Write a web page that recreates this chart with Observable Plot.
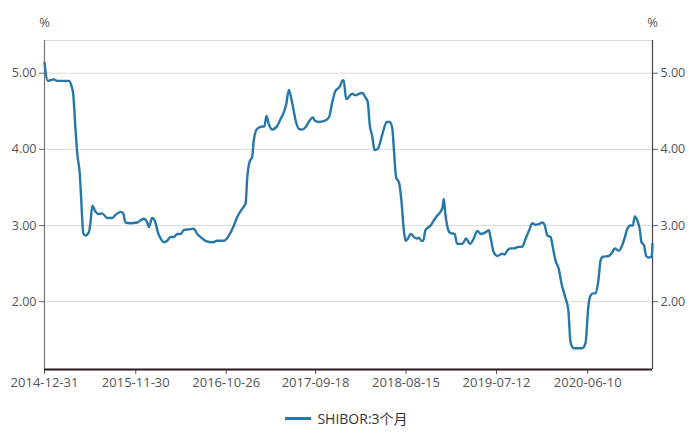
<!DOCTYPE html>
<html>
<head>
<meta charset="utf-8">
<script src="https://cdn.jsdelivr.net/npm/d3@7"></script>
<script src="https://cdn.jsdelivr.net/npm/@observablehq/plot@0.6"></script>
<style>
  html, body { margin: 0; padding: 0; background: #fff; }
  #chart { width: 693px; font-family: "Open Sans", "Noto Sans CJK SC", sans-serif; }
  #legend { height: 36px; display: flex; align-items: center; justify-content: center; font-size: 14px; color: #333; }
  #legend .sw { width: 26px; height: 3px; background: #2778a8; margin-right: 6px; }
</style>
</head>
<body>
<div id="chart"></div>
<script>
const seriesName = "SHIBOR:3个月";
const dates = [
"2014-12-31","2015-01-12","2015-02-03","2015-02-15","2015-03-30","2015-04-08","2015-04-15","2015-04-23","2015-04-30","2015-05-09",
"2015-05-14","2015-05-22","2015-05-30","2015-06-11","2015-06-17","2015-06-24","2015-07-06","2015-07-18","2015-07-30","2015-08-17",
"2015-09-05","2015-09-17","2015-10-05","2015-10-15","2015-10-23","2015-11-11","2015-12-05","2015-12-29","2016-01-11","2016-01-17",
"2016-01-29","2016-02-10","2016-02-19","2016-02-29","2016-03-12","2016-03-24","2016-04-05","2016-04-17","2016-04-30","2016-05-12",
"2016-05-24","2016-06-11","2016-06-29","2016-07-12","2016-07-24","2016-08-11","2016-09-05","2016-09-23","2016-10-17","2016-11-05",
"2016-11-23","2016-12-05","2016-12-23","2017-01-05","2017-01-11","2017-01-19","2017-01-29","2017-02-04","2017-02-16","2017-03-07",
"2017-03-15","2017-03-22","2017-03-31","2017-04-12","2017-05-01","2017-05-13","2017-05-25","2017-06-03","2017-06-12","2017-06-25",
"2017-07-07","2017-07-19","2017-07-31","2017-08-12","2017-08-24","2017-09-08","2017-09-15","2017-09-30","2017-10-18","2017-11-06",
"2017-11-18","2017-11-30","2017-12-15","2017-12-25","2017-12-30","2018-01-08","2018-01-30","2018-02-11","2018-02-23","2018-03-08",
"2018-03-20","2018-03-28","2018-04-04","2018-04-13","2018-04-22","2018-05-04","2018-05-16","2018-05-26","2018-06-05","2018-06-17",
"2018-06-26","2018-07-01","2018-07-10","2018-07-20","2018-07-28","2018-08-07","2018-08-13","2018-08-22","2018-09-01","2018-09-13",
"2018-09-23","2018-10-01","2018-10-10","2018-10-17","2018-10-25","2018-11-13","2018-11-25","2018-12-07","2018-12-19","2018-12-27",
"2018-12-31","2019-01-06","2019-01-15","2019-01-25","2019-02-09","2019-02-18","2019-03-09","2019-03-23","2019-04-06","2019-04-20",
"2019-05-03","2019-05-15","2019-06-02","2019-06-14","2019-06-20","2019-07-02","2019-07-15","2019-08-02","2019-08-11","2019-08-20",
"2019-09-02","2019-09-14","2019-09-30","2019-10-14","2019-10-27","2019-11-10","2019-11-20","2019-12-02","2019-12-14","2019-12-27",
"2020-01-05","2020-01-14","2020-01-26","2020-02-03","2020-02-13","2020-02-25","2020-03-06","2020-03-18","2020-03-31","2020-04-08",
"2020-04-20","2020-05-21","2020-06-02","2020-06-12","2020-06-20","2020-06-29","2020-07-09","2020-07-19","2020-07-27","2020-08-04",
"2020-08-26","2020-09-08","2020-09-17","2020-10-02","2020-10-14","2020-10-24","2020-11-02","2020-11-14","2020-11-22","2020-11-29",
"2020-12-08","2020-12-17","2020-12-24","2021-01-02","2021-01-10","2021-01-22","2021-01-30","2021-02-02"
];
const values = [
5.14,4.90,4.92,4.90,4.90,4.84,4.73,4.29,3.94,3.68,
3.37,2.90,2.87,2.91,3.03,3.26,3.18,3.15,3.16,3.10,
3.10,3.14,3.18,3.16,3.04,3.03,3.04,3.09,3.04,2.98,
3.10,3.04,2.91,2.83,2.78,2.80,2.85,2.85,2.89,2.89,
2.94,2.95,2.96,2.89,2.85,2.80,2.78,2.80,2.80,2.87,
3.00,3.11,3.22,3.29,3.63,3.83,3.90,4.12,4.27,4.30,
4.30,4.44,4.33,4.26,4.31,4.40,4.49,4.60,4.78,4.60,
4.38,4.27,4.26,4.29,4.36,4.42,4.38,4.36,4.37,4.42,
4.62,4.77,4.82,4.90,4.91,4.66,4.73,4.71,4.73,4.74,
4.68,4.62,4.33,4.18,3.99,4.01,4.14,4.27,4.36,4.36,
4.27,4.03,3.63,3.57,3.37,2.94,2.80,2.83,2.89,2.85,
2.83,2.84,2.80,2.80,2.94,3.00,3.07,3.13,3.18,3.24,
3.35,3.15,2.96,2.90,2.89,2.76,2.76,2.83,2.76,2.83,
2.93,2.89,2.91,2.94,2.85,2.65,2.60,2.63,2.62,2.67,
2.70,2.70,2.72,2.72,2.83,2.95,3.03,3.01,3.02,3.04,
3.00,2.87,2.85,2.72,2.54,2.43,2.24,2.08,1.89,1.47,
1.39,1.39,1.46,1.93,2.08,2.11,2.11,2.28,2.54,2.59,
2.60,2.65,2.70,2.67,2.74,2.85,2.96,3.00,3.00,3.12,
3.07,2.96,2.78,2.74,2.60,2.58,2.60,2.76
];
const xTickLabels = ["2014-12-31","2015-11-30","2016-10-26","2017-09-18","2018-08-15","2019-07-12","2020-06-10"];
const yTicks = [2, 3, 4, 5];
const yDomain = [1.11, 5.43];
const unitLabel = "%";

const parse = d3.utcParse("%Y-%m-%d");
const data = dates.map((d, i) => ({date: parse(d), value: values[i]}));
const xTicks = xTickLabels.map(parse);
const xDomain = [parse(dates[0]), parse(dates[dates.length - 1])];
const fmt = d3.utcFormat("%Y-%m-%d");
const lineColor = "#2778a8";
const textColor = "#555";

const chart = Plot.plot({
  width: 693,
  height: 400,
  marginLeft: 44,
  marginRight: 41,
  marginTop: 40,
  marginBottom: 31,
  style: {fontFamily: '"Open Sans", "Noto Sans CJK SC", sans-serif', fontSize: "12.5px", color: textColor, background: "#fff"},
  x: {type: "utc", domain: xDomain},
  y: {domain: yDomain},
  marks: [
    Plot.ruleY(yTicks, {stroke: "#dcdcdc", strokeWidth: 1}),
    Plot.ruleY([yDomain[1]], {stroke: "#dcdcdc", strokeWidth: 1}),
    Plot.axisY({anchor: "left", ticks: yTicks, tickFormat: d => d.toFixed(2), label: null, tickSize: 5, tickPadding: 3, stroke: "#666", fill: textColor, fontSize: 12.5}),
    Plot.axisY({anchor: "right", ticks: yTicks, tickFormat: d => d.toFixed(2), label: null, tickSize: 5, tickPadding: 3, stroke: "#666", fill: textColor, fontSize: 12.5}),
    Plot.axisX({ticks: xTicks, tickFormat: fmt, label: null, tickSize: 5, tickPadding: 3, stroke: "#555", fill: textColor, fontSize: 13}),
    Plot.ruleX([xDomain[0]], {stroke: "#777", strokeWidth: 1.2}),
    Plot.ruleX([xDomain[1]], {stroke: "#444", strokeWidth: 1.2}),
    Plot.line(data, {x: "date", y: "value", stroke: lineColor, strokeWidth: 2.4, curve: "monotone-x"}),
    Plot.ruleY([yDomain[0]], {stroke: "#2b1a1a", strokeWidth: 2}),
    Plot.text([unitLabel], {frameAnchor: "top-left", dy: -23, text: d => d, fill: textColor, fontSize: 13, textAnchor: "middle"}),
    Plot.text([unitLabel], {frameAnchor: "top-right", dy: -23, text: d => d, fill: textColor, fontSize: 13, textAnchor: "middle"})
  ]
});
const root = document.getElementById("chart");
root.appendChild(chart);
const legend = document.createElement("div");
legend.id = "legend";
legend.innerHTML = '<span class="sw"></span><span></span>';
legend.lastChild.textContent = seriesName;
root.appendChild(legend);
</script>
</body>
</html>
